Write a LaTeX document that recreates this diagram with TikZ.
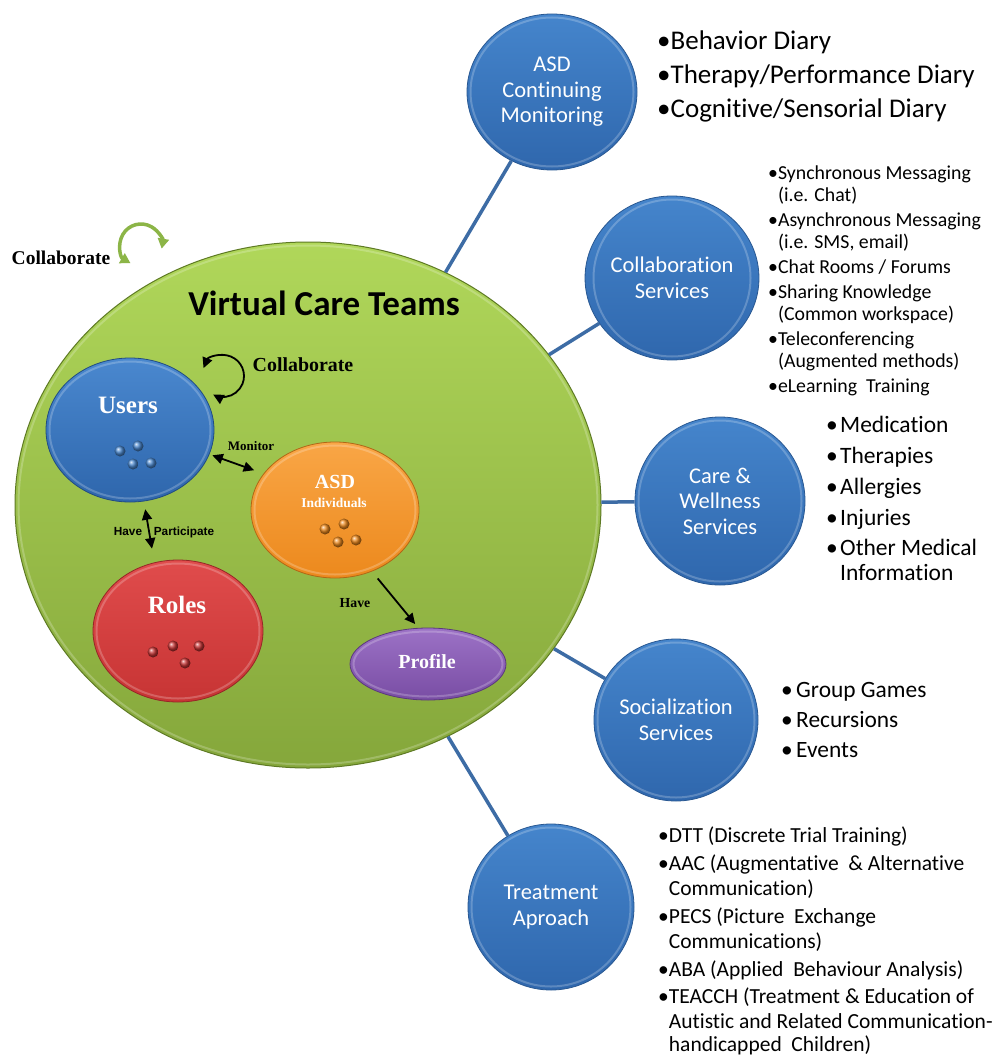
\documentclass[tikz,border=0pt]{standalone}
\usepackage{fontspec}
\setmainfont{Carlito}[Ligatures=NoCommon]
\newfontfamily\timesfam{Liberation Serif}
\newfontfamily\arialfam{Liberation Sans}
\usetikzlibrary{shapes.geometric,arrows.meta}

% palette
\definecolor{teamTop}{HTML}{B0D75A}
\definecolor{teamBot}{HTML}{85A73B}
\definecolor{teamEdge}{HTML}{5E7A24}
\definecolor{svcTop}{HTML}{4585CC}
\definecolor{svcBot}{HTML}{2F67AD}
\definecolor{svcEdge}{HTML}{295892}
\definecolor{linkBlue}{HTML}{3D6CA5}
\definecolor{userTop}{HTML}{4A88CF}
\definecolor{userBot}{HTML}{2E66AC}
\definecolor{asdTop}{HTML}{F9A646}
\definecolor{asdBot}{HTML}{EC891D}
\definecolor{roleTop}{HTML}{E04C4C}
\definecolor{roleBot}{HTML}{C73434}
\definecolor{profTop}{HTML}{9C72C6}
\definecolor{profBot}{HTML}{794DA4}
\definecolor{loopGreen}{HTML}{8CB547}

\newcommand\fs[2]{\fontsize{#1}{#2}\selectfont}
\newcommand\hb[1]{\makebox[#1][l]{•}}

\tikzset{
  rimmed/.style 2 args={path picture={
      \draw[white,opacity=.22,line width=2pt]
        (path picture bounding box.center)
        ellipse[x radius={(#1/2-3.5)*1pt}, y radius={(#2/2-3.5)*1pt}];}},
  service/.style 2 args={ellipse, minimum width=#1pt, minimum height=#2pt,
      inner sep=0pt, align=center, text=white, font=\fs{22.5}{25.5},
      draw=svcEdge, line width=.8pt, top color=svcTop, bottom color=svcBot,
      rimmed={#1}{#2}},
  blob/.style n args={4}{ellipse, minimum width=#1pt, minimum height=#2pt,
      inner sep=0pt, top color=#3, bottom color=#4, draw=#4!75!black,
      line width=.8pt, rimmed={#1}{#2}},
  team/.style={ellipse, minimum width=586pt, minimum height=526pt,
      inner sep=0pt, top color=teamTop, bottom color=teamBot,
      draw=teamEdge, line width=1pt, rimmed={586}{526}},
  link/.style={draw=linkBlue, line width=3.5pt},
  rel/.style={draw=black, line width=1.8pt},
  tip/.style={arrows={-Triangle[length=10.5pt,width=10pt]}},
  dbl/.style={arrows={Triangle[length=10.5pt,width=10pt]-Triangle[length=10.5pt,width=10pt]}},
  serifbold/.style={font=\timesfam\bfseries\fs{#1}{#1}},
  whitelbl/.style={inner sep=0pt, text=white},
  darklbl/.style={inner sep=0pt, text=black},
  item/.style={anchor=base west, inner sep=0pt, text=black},
}

\begin{document}
\begin{tikzpicture}[x=1pt,y=-1pt]
\useasboundingbox[fill=white] (0,0) rectangle (1007,1057);

% ---- the care team and its services ----
\node[team] (vct) at (308,505) {};

\node[service={170}{156}] (mon)  at (552,92)  {ASD\\Continuing\\Monitoring};
\node[service={164}{164}] (col)  at (672,278) {Collaboration\\Services};
\node[service={170}{168}] (care) at (720,501) {Care \&\\Wellness\\Services};
\node[service={164}{162}] (soc)  at (676,720) {Socialization\\Services};
\node[service={166}{166}] (trt)  at (551,907) {Treatment\\Aproach};

\foreach \n in {mon,col,care,soc,trt}
  \draw[link] (vct) -- (\n);

\node[font=\bfseries\fs{35}{35}, inner sep=0pt] (title) at (324,303) {Virtual Care Teams};

% ---- members inside the team ----
\node[blob={168}{144}{userTop}{userBot}] (users) at (130,430) {};
\node[blob={168}{136}{asdTop}{asdBot}]   (asd)   at (335,510) {};
\node[blob={170}{142}{roleTop}{roleBot}] (roles) at (178,631) {};
\node[blob={156}{72}{profTop}{profBot}]  (prof)  at (428,664) {};

\node[whitelbl, serifbold=25] (usersT) at (128,405) {Users};
\node[whitelbl, serifbold=25] (rolesT) at (177,605) {Roles};
\node[whitelbl, serifbold=20] (asdT)   at (335,482) {ASD};
\node[whitelbl, serifbold=13.5] (indT) at (334,503) {Individuals};
\node[whitelbl, serifbold=20] (profT)  at (427,662) {Profile};

% small beads
\foreach \p in {(120,451),(138,446),(133,464),(151,463)}
  \shade[ball color=userTop] \p circle[radius=5.5pt];
\foreach \p in {(325,529),(344,524),(338,542),(356,540)}
  \shade[ball color=asdBot] \p circle[radius=5.5pt];
\foreach \p in {(153,652),(173,646),(199,646),(185,663)}
  \shade[ball color=roleBot] \p circle[radius=5.5pt];

% relations
\draw[rel, dbl, shorten <=3pt, shorten >=10pt] (users.-17) -- (asd.153);
\draw[rel, dbl, shorten <=8pt, shorten >=14pt] (users.-79) -- (roles.109);
\draw[rel, tip, shorten <=9pt, shorten >=5pt] (asd.-59) -- (prof.105);

\node[darklbl, serifbold=13] (monL) at (251,446) {Monitor};
\node[darklbl, font=\arialfam\bfseries\fs{11.8}{11.8}, anchor=base] (haveL) at (128,535) {Have};
\node[darklbl, font=\arialfam\bfseries\fs{11.8}{11.8}, anchor=base] (partL) at (184,535) {Participate};
\node[darklbl, serifbold=13.8] (haveP) at (355,603) {Have};

% collaboration loops
\draw[rel, dbl]
  (223,376) ++(202:21) arc[start angle=202, end angle=478, radius=21];
\node[darklbl, serifbold=19.9] (colL) at (303,365) {Collaborate};

\draw[draw=loopGreen, line width=3.5pt,
      arrows={Triangle[length=10pt,width=11pt]-Triangle[length=10pt,width=11pt]}]
  (141,245) ++(120:21) arc[start angle=120, end angle=370, radius=21];
\node[darklbl, serifbold=19.5] (outerL) at (61,258) {Collaborate};

% ---- service details ----
\begin{scope}[font=\fs{27}{27}]
\foreach \yy/\tx [count=\i] in {
    49/{•Behavior Diary},
    83/{•Therapy/Performance Diary},
    117/{•Cognitive/Sensorial Diary}}
  \node[item] (monI\i) at (657,\yy) {\tx};
\end{scope}

\begin{scope}[font=\fs{19.8}{19.8}]
\foreach \yy/\tx [count=\i] in {
    179/{•Synchronous Messaging},
    201/{\phantom{•}(i.e. Chat)},
    226/{•Asynchronous Messaging},
    248/{\phantom{•}(i.e. SMS, email)},
    273/{•Chat Rooms / Forums},
    298/{•Sharing Knowledge},
    320/{\phantom{•}(Common workspace)},
    345/{•Teleconferencing},
    367/{\phantom{•}(Augmented methods)},
    392/{•eLearning~ Training}}
  \node[item] (colI\i) at (768,\yy) {\tx};
\end{scope}

\begin{scope}[font=\fs{23.5}{23.5}]
\foreach \yy/\tx [count=\i] in {
    432.5/{\hb{14pt}Medication},
    463.5/{\hb{14pt}Therapies},
    494.5/{\hb{14pt}Allergies},
    525.5/{\hb{14pt}Injuries},
    555.5/{\hb{14pt}Other Medical},
    580.5/{\hspace*{14pt}Information}}
  \node[item] (careI\i) at (826,\yy) {\tx};
\end{scope}

\begin{scope}[font=\fs{23.4}{23.4}]
\foreach \yy/\tx [count=\i] in {
    697.5/{\hb{15pt}Group Games},
    727.5/{\hb{15pt}Recursions},
    757.5/{\hb{15pt}Events}}
  \node[item] (socI\i) at (781,\yy) {\tx};
\end{scope}

\begin{scope}[font=\fs{21.5}{21.5}]
\foreach \yy/\tx [count=\i] in {
    842/{•DTT (Discrete Trial Training)},
    870/{•AAC (Augmentative ~\& Alternative},
    895/{\phantom{•}Communication)},
    923/{•PECS (Picture ~Exchange},
    948/{\phantom{•}Communications)},
    976/{•ABA (Applied ~Behaviour Analysis)},
    1003/{•TEACCH (Treatment \& Education of},
    1028/{\phantom{•}Autistic and Related Communication-},
    1051/{\phantom{•}handicapped ~Children)}}
  \node[item] (trtI\i) at (658,\yy) {\tx};
\end{scope}

\end{tikzpicture}
\end{document}
